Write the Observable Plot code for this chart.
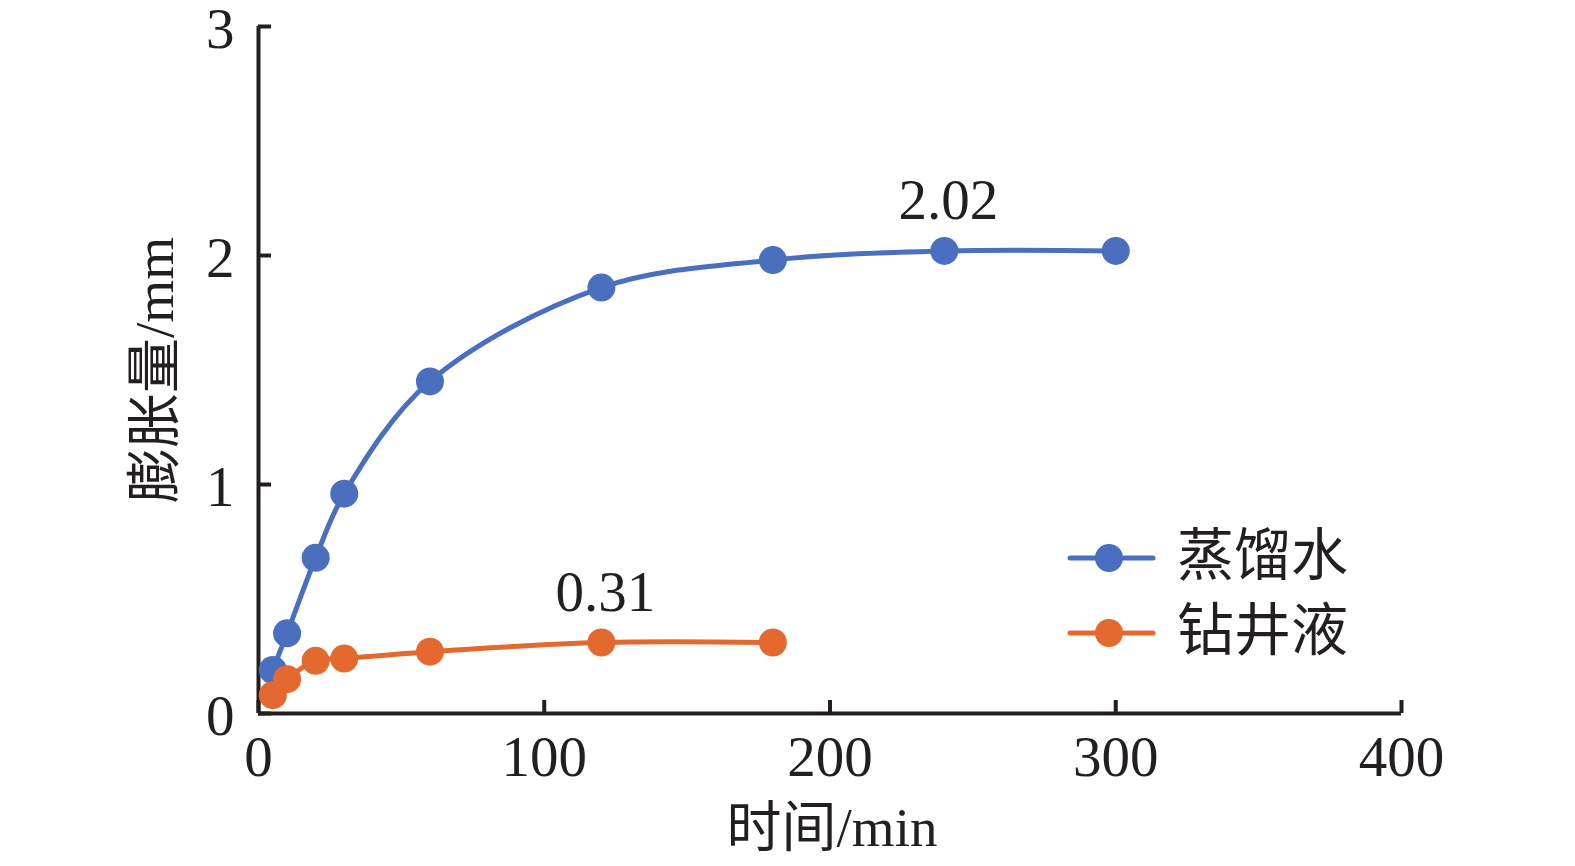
<!DOCTYPE html>
<html>
<head>
<meta charset="utf-8">
<script src="https://cdn.jsdelivr.net/npm/d3@7"></script>
<script src="https://cdn.jsdelivr.net/npm/@observablehq/plot@0.6"></script>
<style>
  html, body { margin: 0; padding: 0; background: #fff; overflow: hidden; }
  #wrap { position: relative; width: 1575px; height: 866px; overflow: hidden; }
  #wrap > svg { display: block; max-width: none; }
  .legend { position: absolute; left: 1067px; top: 0; font-family: "Liberation Serif", "Noto Sans CJK SC", serif; font-size: 57px; color: #231f20; }
  .legend .item { position: absolute; left: 0; white-space: nowrap; height: 60px; }
  .legend svg { position: absolute; left: 0; top: 0; }
  .legend span { position: absolute; left: 110px; top: -2px; line-height: 60px; }
</style>
</head>
<body>
<div id="wrap"></div>
<script>
const times = [5, 10, 20, 30, 60, 120, 180, 240, 300];
const waterValues = [0.19, 0.35, 0.68, 0.96, 1.45, 1.86, 1.98, 2.02, 2.02];
const mudTimes = [5, 10, 20, 30, 60, 120, 180];
const mudValues = [0.08, 0.15, 0.23, 0.24, 0.27, 0.31, 0.31];
const seriesNames = ["蒸馏水", "钻井液"];
const seriesColors = ["#4a6fbe", "#e3692f"];
const xTicks = [0, 100, 200, 300, 400];
const yTicks = [0, 1, 2, 3];
const annotations = [
  {series: "蒸馏水", t: 240, v: 2.02, label: "2.02"},
  {series: "钻井液", t: 120, v: 0.31, label: "0.31"}
];
const xLabel = "时间/min";
const yLabel = "膨胀量/mm";

const data = [
  ...times.map((t, i) => ({series: seriesNames[0], t, v: waterValues[i]})),
  ...mudTimes.map((t, i) => ({series: seriesNames[1], t, v: mudValues[i]}))
];

const font = '"Liberation Serif", "Noto Sans CJK SC", serif';
const ink = "#231f20";

const chart = Plot.plot({
  width: 1575,
  height: 866,
  marginLeft: 258,
  marginRight: 174,
  marginTop: 26,
  marginBottom: 153,
  style: {fontFamily: font, background: "#fff", color: ink, overflow: "visible"},
  x: {domain: [0, 400]},
  y: {domain: [0, 3]},
  color: {domain: seriesNames, range: seriesColors},
  marks: [
    Plot.ruleY([0], {stroke: ink, strokeWidth: 4}),
    Plot.ruleX([0], {stroke: ink, strokeWidth: 4}),
    Plot.axisX({ticks: xTicks, tickSize: -13, tickFormat: () => "", stroke: ink, strokeWidth: 4, fontSize: 57, label: null}),
    Plot.axisX({ticks: xTicks, tickSize: 0, tickPadding: 22, tickFormat: "d", fontSize: 57, fill: ink, label: null}),
    Plot.axisY({ticks: yTicks, tickSize: -13, tickFormat: () => "", stroke: ink, strokeWidth: 4, fontSize: 57, label: null}),
    Plot.axisY({ticks: yTicks, tickSize: 0, tickPadding: 24, tickFormat: "d", fontSize: 57, fill: ink, label: null, dy: 3}),
    Plot.line(data, {x: "t", y: "v", z: "series", stroke: "series", strokeWidth: 5, curve: "catmull-rom"}),
    Plot.dot(data, {x: "t", y: "v", fill: "series", r: 14}),
    Plot.text(annotations, {x: "t", y: "v", text: "label", dy: -50, dx: 4, fontSize: 57, fill: ink}),
    Plot.text([xLabel], {text: d => d, frameAnchor: "bottom", lineAnchor: "middle", textAnchor: "middle", dy: 115, dx: 2, fontSize: 55, fill: ink}),
    Plot.text([yLabel], {text: d => d, frameAnchor: "left", lineAnchor: "middle", textAnchor: "middle", dx: -103, rotate: -90, fontSize: 55, fill: ink})
  ]
});

const wrap = document.getElementById("wrap");
wrap.appendChild(chart);

const legend = document.createElement("div");
legend.className = "legend";
seriesNames.forEach((name, i) => {
  const item = document.createElement("div");
  item.className = "item";
  item.style.top = (528 + i * 75) + "px";
  item.innerHTML = `<svg width="95" height="70"><line x1="3" x2="86" y1="30" y2="30" stroke="${seriesColors[i]}" stroke-width="5" stroke-linecap="round"/><circle cx="42" cy="30" r="14" fill="${seriesColors[i]}"/></svg><span>${name}</span>`;
  legend.appendChild(item);
});
wrap.appendChild(legend);
</script>
</body>
</html>
